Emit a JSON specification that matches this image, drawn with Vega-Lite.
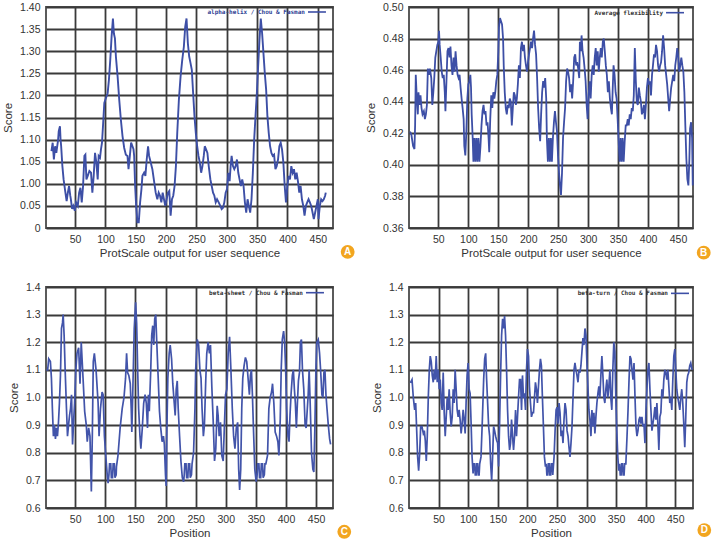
{
"$schema": "https://vega.github.io/schema/vega-lite/v6.json",
"background": "white",
"padding": {"left": 1, "top": 1, "right": 0, "bottom": 0},
"config": {
 "font": "Liberation Sans",
 "view": {"stroke": "#4a4a4a", "strokeWidth": 1.8},
 "axis": {"grid": true, "gridColor": "#3a3a3a", "gridWidth": 1.8, "gridOpacity": 1, "domain": false, "ticks": false, "tickCount": 20,
  "labelFont": "Liberation Sans", "labelFontSize": 10.5, "labelColor": "#333333", "labelPadding": 6, "labelOverlap": false,
  "titleFont": "Liberation Sans", "titleFontSize": 11.5, "titleFontWeight": "normal", "titleColor": "#333333"},
 "axisY": {"titlePadding": 6},
 "axisX": {"titlePadding": 3, "labelFlush": false}
},
"datasets": {
 "helix": [
{"pos":11,"score":1.074},{"pos":13,"score":1.093},{"pos":15,"score":1.055},{"pos":17,"score":1.085},{"pos":19,"score":1.070},{"pos":22,"score":1.100},{"pos":23,"score":1.119},{"pos":25,"score":1.130},{"pos":26,"score":1.100},{"pos":27,"score":1.085},{"pos":29,"score":1.040},{"pos":31,"score":1.010},{"pos":34,"score":0.980},{"pos":36,"score":0.961},{"pos":38,"score":0.980},{"pos":40,"score":0.995},{"pos":42,"score":0.973},{"pos":43,"score":0.965},{"pos":45,"score":0.943},{"pos":47,"score":0.950},{"pos":49.5,"score":0.939},{"pos":51.6,"score":0.958},{"pos":54.4,"score":0.950},{"pos":56.6,"score":0.980},{"pos":58.7,"score":0.991},{"pos":60.9,"score":0.958},{"pos":63.1,"score":0.995},{"pos":65.3,"score":1.063},{"pos":66.9,"score":1.066},{"pos":68.6,"score":1.010},{"pos":70.8,"score":1.018},{"pos":73.5,"score":1.029},{"pos":76.2,"score":1.025},{"pos":78.4,"score":0.980},{"pos":80.6,"score":1.018},{"pos":82.8,"score":1.070},{"pos":85,"score":1.048},{"pos":87.2,"score":1.010},{"pos":88.8,"score":1.063},{"pos":91,"score":1.059},{"pos":92.6,"score":1.078},{"pos":94.3,"score":1.093},{"pos":95.9,"score":1.130},{"pos":98.1,"score":1.183},{"pos":100.8,"score":1.194},{"pos":103.6,"score":1.205},{"pos":105.7,"score":1.235},{"pos":107.9,"score":1.280},{"pos":110.1,"score":1.333},{"pos":112.3,"score":1.374},{"pos":113.9,"score":1.340},{"pos":115.6,"score":1.329},{"pos":117.2,"score":1.288},{"pos":120,"score":1.243},{"pos":122.7,"score":1.190},{"pos":125.4,"score":1.145},{"pos":128.1,"score":1.108},{"pos":130.9,"score":1.081},{"pos":133.6,"score":1.066},{"pos":136.3,"score":1.063},{"pos":138,"score":1.033},{"pos":140.2,"score":1.063},{"pos":142.3,"score":1.093},{"pos":144.5,"score":1.085},{"pos":146.2,"score":1.078},{"pos":147.3,"score":1.063},{"pos":148.9,"score":0.995},{"pos":150.6,"score":0.950},{"pos":152.7,"score":0.913},{"pos":154.9,"score":0.913},{"pos":157.1,"score":0.958},{"pos":159.3,"score":0.988},{"pos":160.9,"score":1.018},{"pos":163.7,"score":1.025},{"pos":165.8,"score":1.018},{"pos":168,"score":1.055},{"pos":170.2,"score":1.085},{"pos":171.9,"score":1.063},{"pos":174.6,"score":1.048},{"pos":177.3,"score":1.033},{"pos":180.1,"score":1.006},{"pos":182.8,"score":0.980},{"pos":185.5,"score":0.965},{"pos":187.7,"score":0.980},{"pos":189.9,"score":0.973},{"pos":192.1,"score":0.958},{"pos":194.3,"score":0.980},{"pos":196.4,"score":0.965},{"pos":198.6,"score":0.950},{"pos":200.8,"score":0.965},{"pos":203,"score":0.980},{"pos":205.2,"score":0.984},{"pos":207.4,"score":0.928},{"pos":209.6,"score":0.965},{"pos":211.7,"score":0.973},{"pos":213.9,"score":0.995},{"pos":216.1,"score":1.040},{"pos":218.3,"score":1.115},{"pos":221,"score":1.190},{"pos":223.8,"score":1.243},{"pos":226.5,"score":1.280},{"pos":229.2,"score":1.310},{"pos":231.4,"score":1.355},{"pos":233.6,"score":1.374},{"pos":235.8,"score":1.318},{"pos":238,"score":1.288},{"pos":240.2,"score":1.273},{"pos":242.3,"score":1.258},{"pos":244.5,"score":1.205},{"pos":246.7,"score":1.153},{"pos":248.9,"score":1.115},{"pos":251.1,"score":1.085},{"pos":253.3,"score":1.063},{"pos":255.5,"score":1.048},{"pos":257.7,"score":1.025},{"pos":259.8,"score":1.040},{"pos":262,"score":1.063},{"pos":263.7,"score":1.085},{"pos":265.8,"score":1.078},{"pos":268,"score":1.070},{"pos":270.2,"score":1.040},{"pos":272.9,"score":1.010},{"pos":275.1,"score":0.995},{"pos":277.3,"score":0.980},{"pos":279.5,"score":0.973},{"pos":281.7,"score":0.958},{"pos":283.9,"score":0.965},{"pos":286.6,"score":0.958},{"pos":289.3,"score":0.950},{"pos":291.5,"score":0.943},{"pos":293.7,"score":0.946},{"pos":295.9,"score":0.958},{"pos":298.1,"score":0.980},{"pos":300.3,"score":0.988},{"pos":302.5,"score":1.025},{"pos":304.6,"score":1.006},{"pos":306.3,"score":1.040},{"pos":307.9,"score":1.063},{"pos":310.1,"score":1.040},{"pos":312.3,"score":1.033},{"pos":314.5,"score":1.040},{"pos":316.7,"score":1.055},{"pos":318.9,"score":1.025},{"pos":321,"score":1.010},{"pos":323.2,"score":0.995},{"pos":325.4,"score":1.010},{"pos":327.6,"score":0.995},{"pos":329.8,"score":0.958},{"pos":332,"score":0.935},{"pos":334.2,"score":0.965},{"pos":336.3,"score":0.950},{"pos":338.5,"score":0.935},{"pos":340.7,"score":0.965},{"pos":342.9,"score":1.025},{"pos":345.1,"score":1.100},{"pos":347.3,"score":1.153},{"pos":349.5,"score":1.205},{"pos":351.6,"score":1.265},{"pos":353.8,"score":1.325},{"pos":356,"score":1.374},{"pos":358.2,"score":1.340},{"pos":360.4,"score":1.295},{"pos":362.6,"score":1.250},{"pos":364.8,"score":1.213},{"pos":366.9,"score":1.153},{"pos":369.1,"score":1.115},{"pos":371.3,"score":1.085},{"pos":373.5,"score":1.070},{"pos":375.7,"score":1.063},{"pos":377.9,"score":1.066},{"pos":380.1,"score":1.033},{"pos":382.2,"score":1.040},{"pos":384.4,"score":1.055},{"pos":386.6,"score":1.085},{"pos":388.8,"score":1.093},{"pos":391,"score":1.078},{"pos":393.2,"score":1.048},{"pos":395.4,"score":0.995},{"pos":397.5,"score":0.958},{"pos":399.7,"score":0.995},{"pos":401.9,"score":1.018},{"pos":404.1,"score":1.010},{"pos":406.3,"score":1.040},{"pos":408.5,"score":1.025},{"pos":410.7,"score":1.033},{"pos":412.8,"score":1.010},{"pos":415,"score":1.025},{"pos":417.2,"score":1.006},{"pos":419.4,"score":0.980},{"pos":421.6,"score":0.995},{"pos":423.8,"score":0.965},{"pos":426,"score":0.950},{"pos":428.1,"score":0.928},{"pos":430.3,"score":0.950},{"pos":432.5,"score":0.958},{"pos":434.7,"score":0.965},{"pos":436.9,"score":0.958},{"pos":439.1,"score":0.950},{"pos":441.3,"score":0.935},{"pos":443.4,"score":0.920},{"pos":445.6,"score":0.935},{"pos":447.8,"score":0.950},{"pos":450,"score":0.965},{"pos":451.1,"score":0.920},{"pos":453.3,"score":0.950},{"pos":455.5,"score":0.965},{"pos":457.7,"score":0.961},{"pos":459.8,"score":0.965},{"pos":462,"score":0.973},{"pos":463.1,"score":0.980}
 ],
 "flex": [
{"pos":2.8,"score":0.421},{"pos":5.0,"score":0.419},{"pos":7.8,"score":0.412},{"pos":10.1,"score":0.410},{"pos":11.2,"score":0.425},{"pos":12.3,"score":0.457},{"pos":14.0,"score":0.442},{"pos":15.7,"score":0.432},{"pos":16.8,"score":0.446},{"pos":18.5,"score":0.438},{"pos":20.2,"score":0.444},{"pos":21.9,"score":0.436},{"pos":23.6,"score":0.432},{"pos":25.8,"score":0.434},{"pos":27.5,"score":0.429},{"pos":29.2,"score":0.432},{"pos":30.9,"score":0.438},{"pos":32.5,"score":0.461},{"pos":34.2,"score":0.457},{"pos":35.9,"score":0.461},{"pos":38.2,"score":0.455},{"pos":39.9,"score":0.438},{"pos":41.6,"score":0.446},{"pos":43.2,"score":0.455},{"pos":44.9,"score":0.468},{"pos":46.6,"score":0.472},{"pos":48.3,"score":0.476},{"pos":50.0,"score":0.478},{"pos":51.1,"score":0.485},{"pos":52.2,"score":0.476},{"pos":53.9,"score":0.468},{"pos":55.6,"score":0.459},{"pos":57.3,"score":0.455},{"pos":59.0,"score":0.457},{"pos":60.7,"score":0.446},{"pos":61.8,"score":0.434},{"pos":63.5,"score":0.453},{"pos":65.2,"score":0.472},{"pos":66.9,"score":0.474},{"pos":68.6,"score":0.468},{"pos":70.2,"score":0.475},{"pos":71.9,"score":0.463},{"pos":73.6,"score":0.457},{"pos":75.3,"score":0.468},{"pos":77.0,"score":0.459},{"pos":78.7,"score":0.472},{"pos":80.4,"score":0.463},{"pos":82.1,"score":0.457},{"pos":83.7,"score":0.455},{"pos":85.4,"score":0.457},{"pos":87.1,"score":0.449},{"pos":88.8,"score":0.442},{"pos":90.5,"score":0.436},{"pos":92.2,"score":0.429},{"pos":93.3,"score":0.412},{"pos":95.0,"score":0.406},{"pos":96.7,"score":0.421},{"pos":98.4,"score":0.442},{"pos":100.0,"score":0.451},{"pos":101.7,"score":0.453},{"pos":103.4,"score":0.457},{"pos":104.5,"score":0.449},{"pos":105.6,"score":0.432},{"pos":107.3,"score":0.417},{"pos":108.5,"score":0.402},{"pos":110.1,"score":0.417},{"pos":111.8,"score":0.402},{"pos":113.5,"score":0.417},{"pos":115.2,"score":0.402},{"pos":116.9,"score":0.417},{"pos":118.6,"score":0.402},{"pos":120.3,"score":0.412},{"pos":122.0,"score":0.425},{"pos":123.7,"score":0.434},{"pos":125.4,"score":0.438},{"pos":127.0,"score":0.432},{"pos":128.7,"score":0.434},{"pos":130.4,"score":0.425},{"pos":132.1,"score":0.427},{"pos":133.8,"score":0.417},{"pos":134.9,"score":0.408},{"pos":136.6,"score":0.429},{"pos":138.3,"score":0.444},{"pos":140.0,"score":0.436},{"pos":141.7,"score":0.446},{"pos":143.4,"score":0.442},{"pos":145.0,"score":0.446},{"pos":146.7,"score":0.453},{"pos":148.4,"score":0.457},{"pos":150.1,"score":0.472},{"pos":151.2,"score":0.487},{"pos":152.9,"score":0.493},{"pos":154.6,"score":0.491},{"pos":156.3,"score":0.489},{"pos":158.0,"score":0.480},{"pos":159.1,"score":0.463},{"pos":160.8,"score":0.446},{"pos":162.5,"score":0.436},{"pos":164.2,"score":0.432},{"pos":165.9,"score":0.438},{"pos":167.5,"score":0.436},{"pos":169.2,"score":0.442},{"pos":170.9,"score":0.440},{"pos":172.6,"score":0.425},{"pos":174.3,"score":0.436},{"pos":176.0,"score":0.446},{"pos":177.7,"score":0.444},{"pos":179.4,"score":0.438},{"pos":181.0,"score":0.442},{"pos":182.7,"score":0.451},{"pos":184.4,"score":0.463},{"pos":186.1,"score":0.455},{"pos":187.8,"score":0.474},{"pos":189.5,"score":0.478},{"pos":191.2,"score":0.472},{"pos":192.9,"score":0.476},{"pos":194.5,"score":0.468},{"pos":196.2,"score":0.463},{"pos":197.9,"score":0.459},{"pos":199.6,"score":0.465},{"pos":201.3,"score":0.470},{"pos":203.0,"score":0.474},{"pos":204.7,"score":0.478},{"pos":206.4,"score":0.474},{"pos":208.0,"score":0.480},{"pos":209.7,"score":0.485},{"pos":211.4,"score":0.476},{"pos":213.1,"score":0.470},{"pos":214.8,"score":0.455},{"pos":216.5,"score":0.436},{"pos":218.2,"score":0.423},{"pos":219.9,"score":0.415},{"pos":221.5,"score":0.432},{"pos":223.2,"score":0.446},{"pos":224.9,"score":0.453},{"pos":226.6,"score":0.449},{"pos":228.3,"score":0.455},{"pos":230.0,"score":0.442},{"pos":231.1,"score":0.417},{"pos":232.8,"score":0.402},{"pos":234.5,"score":0.417},{"pos":236.2,"score":0.402},{"pos":237.9,"score":0.417},{"pos":239.5,"score":0.402},{"pos":241.2,"score":0.417},{"pos":242.9,"score":0.427},{"pos":244.6,"score":0.434},{"pos":246.3,"score":0.427},{"pos":248.0,"score":0.421},{"pos":249.7,"score":0.406},{"pos":251.4,"score":0.395},{"pos":253.0,"score":0.387},{"pos":254.7,"score":0.381},{"pos":256.4,"score":0.395},{"pos":258.1,"score":0.417},{"pos":259.8,"score":0.427},{"pos":261.5,"score":0.436},{"pos":263.2,"score":0.453},{"pos":264.9,"score":0.461},{"pos":266.5,"score":0.459},{"pos":268.2,"score":0.455},{"pos":269.9,"score":0.446},{"pos":271.6,"score":0.451},{"pos":273.3,"score":0.442},{"pos":275.0,"score":0.453},{"pos":276.7,"score":0.468},{"pos":278.4,"score":0.470},{"pos":280.0,"score":0.463},{"pos":281.7,"score":0.465},{"pos":283.4,"score":0.461},{"pos":285.1,"score":0.455},{"pos":286.2,"score":0.478},{"pos":287.9,"score":0.472},{"pos":289.0,"score":0.482},{"pos":290.7,"score":0.472},{"pos":292.4,"score":0.468},{"pos":294.1,"score":0.461},{"pos":295.8,"score":0.453},{"pos":297.5,"score":0.438},{"pos":299.1,"score":0.429},{"pos":300.8,"score":0.444},{"pos":302.5,"score":0.453},{"pos":304.2,"score":0.442},{"pos":305.9,"score":0.457},{"pos":307.6,"score":0.463},{"pos":309.3,"score":0.457},{"pos":311.0,"score":0.468},{"pos":312.6,"score":0.474},{"pos":314.3,"score":0.463},{"pos":316.0,"score":0.472},{"pos":317.7,"score":0.459},{"pos":319.4,"score":0.468},{"pos":321.1,"score":0.474},{"pos":322.8,"score":0.468},{"pos":324.5,"score":0.478},{"pos":326.1,"score":0.480},{"pos":327.8,"score":0.472},{"pos":329.5,"score":0.463},{"pos":331.2,"score":0.457},{"pos":332.9,"score":0.446},{"pos":334.6,"score":0.453},{"pos":336.3,"score":0.442},{"pos":338.0,"score":0.436},{"pos":339.6,"score":0.432},{"pos":340.8,"score":0.446},{"pos":342.4,"score":0.463},{"pos":344.1,"score":0.457},{"pos":345.8,"score":0.446},{"pos":347.5,"score":0.442},{"pos":349.2,"score":0.429},{"pos":350.9,"score":0.415},{"pos":352.6,"score":0.402},{"pos":354.2,"score":0.417},{"pos":355.9,"score":0.402},{"pos":357.6,"score":0.417},{"pos":359.3,"score":0.402},{"pos":361.0,"score":0.415},{"pos":362.7,"score":0.425},{"pos":364.4,"score":0.425},{"pos":366.1,"score":0.429},{"pos":367.7,"score":0.425},{"pos":369.4,"score":0.432},{"pos":371.1,"score":0.429},{"pos":372.8,"score":0.436},{"pos":374.5,"score":0.434},{"pos":376.2,"score":0.444},{"pos":377.9,"score":0.474},{"pos":379.6,"score":0.453},{"pos":381.2,"score":0.440},{"pos":382.9,"score":0.438},{"pos":384.6,"score":0.449},{"pos":386.3,"score":0.444},{"pos":388.0,"score":0.440},{"pos":389.7,"score":0.432},{"pos":391.4,"score":0.434},{"pos":393.1,"score":0.438},{"pos":394.7,"score":0.429},{"pos":396.4,"score":0.438},{"pos":398.1,"score":0.449},{"pos":399.8,"score":0.455},{"pos":401.5,"score":0.451},{"pos":403.2,"score":0.453},{"pos":404.9,"score":0.444},{"pos":406.6,"score":0.457},{"pos":408.2,"score":0.463},{"pos":409.9,"score":0.470},{"pos":411.6,"score":0.468},{"pos":413.3,"score":0.476},{"pos":415.0,"score":0.472},{"pos":416.7,"score":0.463},{"pos":418.4,"score":0.459},{"pos":420.1,"score":0.463},{"pos":421.7,"score":0.465},{"pos":423.4,"score":0.472},{"pos":425.1,"score":0.482},{"pos":426.8,"score":0.474},{"pos":428.5,"score":0.463},{"pos":430.2,"score":0.457},{"pos":431.9,"score":0.451},{"pos":433.6,"score":0.442},{"pos":435.2,"score":0.434},{"pos":436.9,"score":0.442},{"pos":438.6,"score":0.449},{"pos":440.3,"score":0.453},{"pos":442.0,"score":0.457},{"pos":443.7,"score":0.453},{"pos":445.4,"score":0.463},{"pos":447.1,"score":0.468},{"pos":448.7,"score":0.474},{"pos":450.4,"score":0.468},{"pos":452.1,"score":0.459},{"pos":453.8,"score":0.463},{"pos":455.5,"score":0.468},{"pos":457.2,"score":0.463},{"pos":458.9,"score":0.459},{"pos":460.6,"score":0.446},{"pos":462.2,"score":0.425},{"pos":463.9,"score":0.404},{"pos":465.6,"score":0.391},{"pos":467.3,"score":0.387},{"pos":469.0,"score":0.404},{"pos":470.1,"score":0.423},{"pos":471.8,"score":0.427},{"pos":473.5,"score":0.417},{"pos":474.6,"score":0.387}
 ],
 "sheet": [
{"pos":2,"score":1.10},{"pos":4.3,"score":1.10},{"pos":6,"score":1.14},{"pos":8.8,"score":1.13},{"pos":10.5,"score":1.07},{"pos":12.1,"score":0.96},{"pos":13.8,"score":0.86},{"pos":15.5,"score":0.90},{"pos":17.2,"score":0.85},{"pos":18.8,"score":0.89},{"pos":20.5,"score":0.86},{"pos":22.2,"score":0.91},{"pos":23.8,"score":0.98},{"pos":25.5,"score":1.08},{"pos":27.2,"score":1.25},{"pos":28.9,"score":1.27},{"pos":30,"score":1.30},{"pos":31.6,"score":1.225},{"pos":33.3,"score":1.10},{"pos":35.5,"score":0.96},{"pos":37.2,"score":0.86},{"pos":38.9,"score":0.90},{"pos":40.6,"score":0.935},{"pos":42.2,"score":0.96},{"pos":43.9,"score":1.01},{"pos":45.6,"score":0.83},{"pos":47.5,"score":0.92},{"pos":49,"score":0.98},{"pos":51,"score":1.10},{"pos":53,"score":1.16},{"pos":55.7,"score":1.18},{"pos":58,"score":1.05},{"pos":60,"score":1.20},{"pos":63,"score":1.07},{"pos":65.7,"score":0.95},{"pos":68.4,"score":0.90},{"pos":70,"score":0.84},{"pos":72.3,"score":0.89},{"pos":74.5,"score":0.86},{"pos":76.8,"score":0.66},{"pos":78.4,"score":0.86},{"pos":80,"score":1.13},{"pos":81.8,"score":1.16},{"pos":84.6,"score":1.10},{"pos":88,"score":0.98},{"pos":89.6,"score":0.86},{"pos":92,"score":0.96},{"pos":94.6,"score":1.02},{"pos":96.3,"score":1.01},{"pos":98.5,"score":0.86},{"pos":100.7,"score":0.79},{"pos":103.5,"score":0.71},{"pos":104.6,"score":0.69},{"pos":106,"score":0.72},{"pos":107,"score":0.76},{"pos":109,"score":0.76},{"pos":110,"score":0.71},{"pos":112,"score":0.71},{"pos":113,"score":0.76},{"pos":115,"score":0.76},{"pos":116,"score":0.71},{"pos":118,"score":0.72},{"pos":118.5,"score":0.75},{"pos":121,"score":0.79},{"pos":124.6,"score":0.89},{"pos":128,"score":0.96},{"pos":131,"score":1.0},{"pos":133.6,"score":1.07},{"pos":135.3,"score":1.16},{"pos":137,"score":1.09},{"pos":139,"score":1.08},{"pos":141.4,"score":1.05},{"pos":143,"score":0.96},{"pos":144,"score":0.875},{"pos":145.8,"score":1.04},{"pos":148,"score":1.25},{"pos":150.3,"score":1.345},{"pos":152,"score":1.27},{"pos":153.7,"score":1.10},{"pos":155.3,"score":0.96},{"pos":157.5,"score":0.86},{"pos":159,"score":0.815},{"pos":161.4,"score":0.89},{"pos":163.7,"score":0.98},{"pos":166,"score":1.01},{"pos":168,"score":0.98},{"pos":170,"score":0.89},{"pos":171.5,"score":1.01},{"pos":173,"score":0.95},{"pos":175.4,"score":1.10},{"pos":177,"score":1.225},{"pos":178.7,"score":1.26},{"pos":180.4,"score":1.19},{"pos":182,"score":1.285},{"pos":183.7,"score":1.30},{"pos":185.4,"score":1.20},{"pos":187.6,"score":1.08},{"pos":189.9,"score":0.95},{"pos":192,"score":0.89},{"pos":194.3,"score":0.84},{"pos":196.5,"score":0.86},{"pos":198,"score":0.83},{"pos":199.9,"score":0.72},{"pos":201,"score":0.68},{"pos":202,"score":0.86},{"pos":203.8,"score":1.07},{"pos":206,"score":1.16},{"pos":207.7,"score":1.19},{"pos":210,"score":1.14},{"pos":212,"score":1.05},{"pos":214.4,"score":0.98},{"pos":216,"score":0.935},{"pos":217.7,"score":1.03},{"pos":219.4,"score":1.06},{"pos":221,"score":0.96},{"pos":223.3,"score":0.86},{"pos":225.5,"score":0.77},{"pos":227.8,"score":0.71},{"pos":230,"score":0.695},{"pos":231,"score":0.72},{"pos":232,"score":0.76},{"pos":234,"score":0.76},{"pos":235,"score":0.71},{"pos":237,"score":0.71},{"pos":238,"score":0.76},{"pos":240,"score":0.76},{"pos":241,"score":0.71},{"pos":243,"score":0.72},{"pos":244,"score":0.76},{"pos":246.5,"score":0.80},{"pos":248.8,"score":0.96},{"pos":250,"score":1.10},{"pos":252.6,"score":1.21},{"pos":254.9,"score":1.19},{"pos":257,"score":1.10},{"pos":258.9,"score":1.07},{"pos":260.6,"score":0.96},{"pos":262.8,"score":0.86},{"pos":264.5,"score":0.90},{"pos":266.7,"score":1.06},{"pos":268.4,"score":1.16},{"pos":270.6,"score":1.20},{"pos":272.9,"score":1.16},{"pos":274.6,"score":1.19},{"pos":276.8,"score":1.04},{"pos":279,"score":0.92},{"pos":281.3,"score":0.77},{"pos":283.4,"score":0.815},{"pos":285.7,"score":0.97},{"pos":287.3,"score":0.935},{"pos":289,"score":0.86},{"pos":291.2,"score":0.91},{"pos":293.4,"score":0.79},{"pos":295.7,"score":0.77},{"pos":297.9,"score":0.91},{"pos":299.6,"score":1.01},{"pos":301.8,"score":1.03},{"pos":304,"score":1.16},{"pos":306.3,"score":1.22},{"pos":308.5,"score":1.10},{"pos":310.8,"score":0.96},{"pos":313,"score":0.86},{"pos":315.2,"score":0.815},{"pos":317.5,"score":0.89},{"pos":319.7,"score":0.91},{"pos":321.4,"score":0.74},{"pos":323,"score":0.665},{"pos":324.8,"score":0.74},{"pos":326.5,"score":0.96},{"pos":328.2,"score":1.07},{"pos":330.4,"score":1.115},{"pos":332.6,"score":1.145},{"pos":334.8,"score":1.13},{"pos":337,"score":1.07},{"pos":339.2,"score":1.01},{"pos":340.9,"score":1.08},{"pos":342.6,"score":1.10},{"pos":344.2,"score":1.01},{"pos":345.9,"score":0.89},{"pos":348.2,"score":0.74},{"pos":350.4,"score":0.695},{"pos":352,"score":0.72},{"pos":353,"score":0.76},{"pos":355,"score":0.76},{"pos":356,"score":0.71},{"pos":358,"score":0.71},{"pos":359,"score":0.76},{"pos":361,"score":0.76},{"pos":362,"score":0.71},{"pos":364,"score":0.72},{"pos":365,"score":0.76},{"pos":366.5,"score":0.76},{"pos":369.3,"score":0.79},{"pos":371.5,"score":0.96},{"pos":373.7,"score":1.0},{"pos":376,"score":1.02},{"pos":377.6,"score":1.05},{"pos":379.8,"score":0.98},{"pos":382,"score":0.875},{"pos":384.3,"score":0.86},{"pos":386.5,"score":0.84},{"pos":388.2,"score":0.79},{"pos":390.4,"score":0.92},{"pos":392,"score":1.10},{"pos":393.8,"score":1.21},{"pos":396,"score":1.24},{"pos":397.7,"score":1.20},{"pos":399.4,"score":1.10},{"pos":401,"score":0.96},{"pos":403.3,"score":0.86},{"pos":405,"score":0.84},{"pos":406.6,"score":0.935},{"pos":408.3,"score":1.01},{"pos":410.5,"score":1.08},{"pos":412.2,"score":1.10},{"pos":413.9,"score":1.03},{"pos":415.5,"score":0.98},{"pos":417.2,"score":0.89},{"pos":418.9,"score":0.98},{"pos":420.6,"score":1.06},{"pos":422.3,"score":1.09},{"pos":423.9,"score":1.20},{"pos":425.6,"score":1.21},{"pos":427.3,"score":1.10},{"pos":429.5,"score":1.03},{"pos":431.7,"score":0.90},{"pos":433.4,"score":0.89},{"pos":435.1,"score":0.95},{"pos":436.8,"score":1.01},{"pos":438.4,"score":1.10},{"pos":440.1,"score":0.98},{"pos":442.3,"score":0.80},{"pos":444.6,"score":0.74},{"pos":446.2,"score":0.73},{"pos":447.9,"score":0.89},{"pos":449.6,"score":1.10},{"pos":451.2,"score":1.20},{"pos":453.5,"score":1.21},{"pos":455.7,"score":1.16},{"pos":457.4,"score":1.10},{"pos":459.6,"score":1.01},{"pos":461.3,"score":1.0},{"pos":462.9,"score":1.09},{"pos":464.6,"score":1.10},{"pos":466.3,"score":1.01},{"pos":468,"score":0.96},{"pos":470.2,"score":0.90},{"pos":472.4,"score":0.85},{"pos":474,"score":0.83}
 ],
 "turn": [
{"pos":2.3,"score":1.053},{"pos":5.1,"score":1.065},{"pos":7.3,"score":1.0},{"pos":9.6,"score":0.955},{"pos":11.3,"score":0.98},{"pos":13,"score":0.88},{"pos":14.6,"score":0.785},{"pos":16.3,"score":0.735},{"pos":18,"score":0.795},{"pos":19.7,"score":0.895},{"pos":21.9,"score":0.895},{"pos":24.2,"score":0.87},{"pos":25.9,"score":0.88},{"pos":27.5,"score":0.845},{"pos":29.2,"score":0.77},{"pos":30.9,"score":0.86},{"pos":32.6,"score":1.0},{"pos":34.3,"score":1.1},{"pos":35.9,"score":1.15},{"pos":37.6,"score":1.13},{"pos":39.3,"score":1.08},{"pos":41,"score":1.055},{"pos":42.7,"score":1.1},{"pos":44.3,"score":1.065},{"pos":46,"score":1.15},{"pos":47.7,"score":1.055},{"pos":49.4,"score":1.1},{"pos":51.1,"score":1.03},{"pos":52.8,"score":1.065},{"pos":54.5,"score":0.98},{"pos":56.1,"score":0.955},{"pos":57.8,"score":1.09},{"pos":59.5,"score":0.945},{"pos":61.2,"score":0.86},{"pos":62.9,"score":0.93},{"pos":64.6,"score":1.0},{"pos":66.2,"score":0.955},{"pos":67.9,"score":1.03},{"pos":69.6,"score":0.945},{"pos":71.3,"score":0.895},{"pos":73,"score":0.93},{"pos":74.7,"score":1.03},{"pos":76.3,"score":0.98},{"pos":78,"score":1.1},{"pos":79.7,"score":1.03},{"pos":81.4,"score":0.955},{"pos":83.1,"score":0.93},{"pos":84.7,"score":0.955},{"pos":86.4,"score":0.92},{"pos":88.1,"score":0.87},{"pos":89.8,"score":0.905},{"pos":91.5,"score":0.955},{"pos":93.2,"score":0.92},{"pos":94.9,"score":0.87},{"pos":96.5,"score":0.98},{"pos":98.2,"score":1.08},{"pos":99.9,"score":1.125},{"pos":101.6,"score":1.03},{"pos":103.3,"score":1.015},{"pos":105,"score":0.905},{"pos":106.6,"score":0.785},{"pos":108.3,"score":0.725},{"pos":109.5,"score":0.76},{"pos":111,"score":0.76},{"pos":112,"score":0.72},{"pos":113.5,"score":0.72},{"pos":114.5,"score":0.76},{"pos":116,"score":0.76},{"pos":117,"score":0.72},{"pos":118.5,"score":0.72},{"pos":119.5,"score":0.76},{"pos":121.7,"score":0.785},{"pos":124,"score":0.92},{"pos":126.2,"score":1.065},{"pos":127.9,"score":1.14},{"pos":129.6,"score":1.16},{"pos":131.2,"score":1.065},{"pos":132.9,"score":0.98},{"pos":134.6,"score":0.895},{"pos":136.3,"score":0.86},{"pos":138,"score":0.76},{"pos":139.7,"score":0.70},{"pos":141.3,"score":0.785},{"pos":143,"score":0.895},{"pos":144.7,"score":0.88},{"pos":146.4,"score":0.86},{"pos":148.1,"score":0.845},{"pos":149.8,"score":0.835},{"pos":151.4,"score":0.75},{"pos":153.1,"score":0.905},{"pos":154.8,"score":1.08},{"pos":156.5,"score":1.225},{"pos":158.2,"score":1.285},{"pos":159.9,"score":1.25},{"pos":161.5,"score":1.295},{"pos":163.2,"score":1.225},{"pos":164.9,"score":1.1},{"pos":166.6,"score":0.955},{"pos":168.3,"score":0.86},{"pos":170,"score":0.81},{"pos":171.6,"score":0.835},{"pos":173.3,"score":0.92},{"pos":175,"score":0.86},{"pos":176.7,"score":0.81},{"pos":178.4,"score":0.86},{"pos":180.1,"score":0.955},{"pos":181.7,"score":0.86},{"pos":183.4,"score":0.93},{"pos":185.1,"score":1.0},{"pos":186.8,"score":1.065},{"pos":188.5,"score":1.065},{"pos":190.2,"score":0.955},{"pos":191.8,"score":1.08},{"pos":193.5,"score":1.0},{"pos":195.2,"score":1.015},{"pos":196.9,"score":0.955},{"pos":198.6,"score":1.1},{"pos":200.3,"score":1.175},{"pos":202,"score":1.15},{"pos":203.6,"score":1.04},{"pos":205.3,"score":0.98},{"pos":207,"score":0.93},{"pos":208.7,"score":0.945},{"pos":210.4,"score":0.945},{"pos":212.1,"score":1.0},{"pos":213.7,"score":1.055},{"pos":215.4,"score":1.03},{"pos":217.1,"score":0.98},{"pos":218.8,"score":1.04},{"pos":220.5,"score":1.1},{"pos":222.2,"score":1.14},{"pos":223.8,"score":1.115},{"pos":225.5,"score":1.0},{"pos":227.2,"score":0.895},{"pos":228.9,"score":0.785},{"pos":230.6,"score":0.75},{"pos":232,"score":0.76},{"pos":233,"score":0.72},{"pos":234.5,"score":0.72},{"pos":235.5,"score":0.76},{"pos":237,"score":0.76},{"pos":238,"score":0.72},{"pos":239.5,"score":0.72},{"pos":240.5,"score":0.76},{"pos":242,"score":0.76},{"pos":243,"score":0.72},{"pos":245.2,"score":0.785},{"pos":246.9,"score":0.88},{"pos":248.6,"score":0.955},{"pos":250.2,"score":0.965},{"pos":251.9,"score":0.905},{"pos":253.6,"score":0.98},{"pos":255.3,"score":0.945},{"pos":257,"score":0.86},{"pos":258.7,"score":0.88},{"pos":260.3,"score":0.835},{"pos":262,"score":0.92},{"pos":263.7,"score":0.98},{"pos":265.4,"score":0.955},{"pos":267.1,"score":0.88},{"pos":268.8,"score":0.86},{"pos":270.4,"score":0.82},{"pos":272.1,"score":0.785},{"pos":273.8,"score":0.835},{"pos":275.5,"score":0.895},{"pos":277.2,"score":1.0},{"pos":278.9,"score":1.1},{"pos":280.5,"score":1.125},{"pos":282.2,"score":1.1},{"pos":283.9,"score":1.08},{"pos":285.6,"score":1.055},{"pos":287.3,"score":1.1},{"pos":289,"score":1.09},{"pos":290.6,"score":1.115},{"pos":292.3,"score":1.165},{"pos":294,"score":1.215},{"pos":295.7,"score":1.19},{"pos":297.4,"score":1.25},{"pos":299.1,"score":1.225},{"pos":300.7,"score":1.125},{"pos":302.4,"score":1.04},{"pos":304.1,"score":0.955},{"pos":305.8,"score":0.92},{"pos":307.5,"score":0.86},{"pos":309.2,"score":0.955},{"pos":310.8,"score":0.895},{"pos":312.5,"score":0.945},{"pos":314.2,"score":0.87},{"pos":315.9,"score":0.93},{"pos":317.6,"score":0.98},{"pos":319.3,"score":1.015},{"pos":320.9,"score":1.04},{"pos":322.6,"score":1.0},{"pos":324.3,"score":1.08},{"pos":326,"score":1.15},{"pos":327.7,"score":1.08},{"pos":329.4,"score":1.0},{"pos":331,"score":0.98},{"pos":332.7,"score":1.03},{"pos":334.4,"score":1.065},{"pos":336.1,"score":1.0},{"pos":337.8,"score":1.04},{"pos":339.5,"score":1.1},{"pos":341.1,"score":1.0},{"pos":342.8,"score":0.955},{"pos":344.5,"score":1.1},{"pos":346.2,"score":1.2},{"pos":347.9,"score":1.165},{"pos":349.6,"score":1.0},{"pos":351.2,"score":0.88},{"pos":352.9,"score":0.785},{"pos":354.6,"score":0.735},{"pos":356,"score":0.76},{"pos":357,"score":0.72},{"pos":358.5,"score":0.72},{"pos":359.5,"score":0.76},{"pos":361,"score":0.76},{"pos":362,"score":0.72},{"pos":363.5,"score":0.72},{"pos":364.5,"score":0.76},{"pos":366.5,"score":0.76},{"pos":368.5,"score":0.86},{"pos":370.2,"score":0.955},{"pos":371.9,"score":1.065},{"pos":373.5,"score":1.15},{"pos":375.2,"score":1.14},{"pos":376.9,"score":1.1},{"pos":378.6,"score":1.065},{"pos":380.3,"score":1.125},{"pos":382,"score":1.0},{"pos":383.6,"score":0.895},{"pos":385.3,"score":0.86},{"pos":387,"score":0.88},{"pos":388.7,"score":0.92},{"pos":390.4,"score":0.93},{"pos":392,"score":0.905},{"pos":393.7,"score":0.93},{"pos":395.4,"score":0.895},{"pos":397.1,"score":0.905},{"pos":398.8,"score":0.835},{"pos":400.5,"score":0.955},{"pos":402.1,"score":1.03},{"pos":403.8,"score":1.1},{"pos":405.5,"score":1.125},{"pos":407.2,"score":1.03},{"pos":408.9,"score":0.955},{"pos":410.6,"score":0.88},{"pos":412.2,"score":0.905},{"pos":413.9,"score":0.93},{"pos":415.6,"score":0.965},{"pos":417.3,"score":0.92},{"pos":419,"score":0.98},{"pos":420.6,"score":0.905},{"pos":422.3,"score":0.81},{"pos":424,"score":0.93},{"pos":425.7,"score":0.945},{"pos":427.4,"score":1.03},{"pos":429.1,"score":1.0},{"pos":430.7,"score":1.065},{"pos":432.4,"score":1.1},{"pos":434.1,"score":1.09},{"pos":435.8,"score":1.065},{"pos":437.5,"score":1.1},{"pos":439.2,"score":1.04},{"pos":440.8,"score":0.98},{"pos":442.5,"score":1.0},{"pos":444.2,"score":0.955},{"pos":445.9,"score":1.065},{"pos":447.6,"score":1.15},{"pos":449.3,"score":1.175},{"pos":450.9,"score":1.1},{"pos":452.6,"score":1.03},{"pos":454.3,"score":1.0},{"pos":456,"score":0.98},{"pos":457.7,"score":0.955},{"pos":459.4,"score":1.0},{"pos":461,"score":1.03},{"pos":462.7,"score":0.98},{"pos":464.4,"score":0.905},{"pos":466.1,"score":0.82},{"pos":467.8,"score":0.93},{"pos":469.5,"score":1.055},{"pos":471.1,"score":1.08},{"pos":472.8,"score":1.09},{"pos":474.5,"score":1.115},{"pos":476.2,"score":1.125},{"pos":478.4,"score":1.1}
 ]
},
"columns": 2,
"spacing": {"row": 59, "column": 76},
"bounds": "flush",
"concat": [
 {
  "width": 287, "height": 221,
  "layer": [
   {"data": {"name": "helix"},
    "mark": {"type": "line", "color": "#3d4fa6", "strokeWidth": 1.9},
    "encoding": {
     "x": {"field": "pos", "type": "quantitative", "scale": {"domain": [2, 475], "nice": false, "zero": false}, "axis": {"values": [50,100,150,200,250,300,350,400,450], "title": "ProtScale output for user sequence"}},
     "y": {"field": "score", "type": "quantitative", "scale": {"domain": [0.9, 1.4], "nice": false, "zero": false}, "axis": {"values": [0.9,0.95,1.0,1.05,1.1,1.15,1.2,1.25,1.3,1.35,1.4], "labelExpr": "datum.value < 0.925 ? '0' : datum.value < 0.975 ? '0.05' : format(datum.value, '.2f')", "title": "Score"}}
    }},
   {"data": {"values": [{"name": "alpha-helix / Chou & Fasman"}]},
    "mark": {"type": "text", "align": "right", "baseline": "middle", "font": "DejaVu Sans Mono", "fontWeight": "bold", "fontSize": 6, "color": "#2f3f94"},
    "encoding": {"x": {"datum": 428.8}, "y": {"datum": 1.3887}, "text": {"field": "name"}}},
   {"data": {"values": [{"name": "alpha-helix / Chou & Fasman"}]},
    "mark": {"type": "rule", "color": "#3d4fa6", "strokeWidth": 1.6},
    "encoding": {"x": {"datum": 433.8}, "x2": {"datum": 463.4}, "y": {"datum": 1.3887}}},
   {"data": {"values": [{"label": "A"}]},
    "mark": {"type": "point", "shape": "circle", "filled": true, "color": "#f2a51f", "size": 190, "opacity": 1},
    "encoding": {"x": {"datum": 499.2}, "y": {"datum": 0.846}}},
   {"data": {"values": [{"label": "A"}]},
    "mark": {"type": "text", "color": "white", "fontWeight": "bold", "fontSize": 10, "font": "Liberation Sans", "baseline": "middle", "align": "center"},
    "encoding": {"x": {"datum": 499.2}, "y": {"datum": 0.846}, "text": {"field": "label"}}}
  ]
 },
 {
  "width": 284, "height": 221,
  "layer": [
   {"data": {"name": "flex"},
    "mark": {"type": "line", "color": "#3d4fa6", "strokeWidth": 1.8},
    "encoding": {
     "x": {"field": "pos", "type": "quantitative", "scale": {"domain": [1, 475], "nice": false, "zero": false}, "axis": {"values": [50,100,150,200,250,300,350,400,450], "title": "ProtScale output for user sequence"}},
     "y": {"field": "score", "type": "quantitative", "scale": {"domain": [0.36, 0.5], "nice": false, "zero": false}, "axis": {"values": [0.36,0.38,0.4,0.42,0.44,0.46,0.48,0.5], "format": ".2f", "title": "Score"}}
    }},
   {"data": {"values": [{"name": "Average flexibility"}]},
    "mark": {"type": "text", "align": "right", "baseline": "middle", "font": "DejaVu Sans Mono", "fontWeight": "bold", "fontSize": 6, "color": "#333333"},
    "encoding": {"x": {"datum": 425}, "y": {"datum": 0.4964}, "text": {"field": "name"}}},
   {"data": {"values": [{"name": "Average flexibility"}]},
    "mark": {"type": "rule", "color": "#3d4fa6", "strokeWidth": 1.6},
    "encoding": {"x": {"datum": 430}, "x2": {"datum": 460}, "y": {"datum": 0.4964}}},
   {"data": {"values": [{"label": "B"}]},
    "mark": {"type": "point", "shape": "circle", "filled": true, "color": "#f2a51f", "size": 190, "opacity": 1},
    "encoding": {"x": {"datum": 492.9}, "y": {"datum": 0.3444}}},
   {"data": {"values": [{"label": "B"}]},
    "mark": {"type": "text", "color": "white", "fontWeight": "bold", "fontSize": 10, "font": "Liberation Sans", "baseline": "middle", "align": "center"},
    "encoding": {"x": {"datum": 492.9}, "y": {"datum": 0.3444}, "text": {"field": "label"}}}
  ]
 },
 {
  "width": 287, "height": 221,
  "layer": [
   {"data": {"name": "sheet"},
    "mark": {"type": "line", "color": "#4254aa", "strokeWidth": 1.7},
    "encoding": {
     "x": {"field": "pos", "type": "quantitative", "scale": {"domain": [1.5, 478], "nice": false, "zero": false}, "axis": {"values": [50,100,150,200,250,300,350,400,450], "title": "Position"}},
     "y": {"field": "score", "type": "quantitative", "scale": {"domain": [0.6, 1.4], "nice": false, "zero": false}, "axis": {"values": [0.6,0.7,0.8,0.9,1.0,1.1,1.2,1.3,1.4], "format": ".1f", "title": "Score"}}
    }},
   {"data": {"values": [{"name": "beta-sheet / Chou & Fasman"}]},
    "mark": {"type": "text", "align": "right", "baseline": "middle", "font": "DejaVu Sans Mono", "fontWeight": "bold", "fontSize": 6, "color": "#333333"},
    "encoding": {"x": {"datum": 428.1}, "y": {"datum": 1.3794}, "text": {"field": "name"}}},
   {"data": {"values": [{"name": "beta-sheet / Chou & Fasman"}]},
    "mark": {"type": "rule", "color": "#3d4fa6", "strokeWidth": 1.6},
    "encoding": {"x": {"datum": 433.1}, "x2": {"datum": 463}, "y": {"datum": 1.3794}}},
   {"data": {"values": [{"label": "C"}]},
    "mark": {"type": "point", "shape": "circle", "filled": true, "color": "#f2a51f", "size": 190, "opacity": 1},
    "encoding": {"x": {"datum": 496.7}, "y": {"datum": 0.514}}},
   {"data": {"values": [{"label": "C"}]},
    "mark": {"type": "text", "color": "white", "fontWeight": "bold", "fontSize": 10, "font": "Liberation Sans", "baseline": "middle", "align": "center"},
    "encoding": {"x": {"datum": 496.7}, "y": {"datum": 0.514}, "text": {"field": "label"}}}
  ]
 },
 {
  "width": 284, "height": 221,
  "layer": [
   {"data": {"name": "turn"},
    "mark": {"type": "line", "color": "#4254aa", "strokeWidth": 1.7},
    "encoding": {
     "x": {"field": "pos", "type": "quantitative", "scale": {"domain": [0, 480], "nice": false, "zero": false}, "axis": {"values": [50,100,150,200,250,300,350,400,450], "title": "Position"}},
     "y": {"field": "score", "type": "quantitative", "scale": {"domain": [0.6, 1.4], "nice": false, "zero": false}, "axis": {"values": [0.6,0.7,0.8,0.9,1.0,1.1,1.2,1.3,1.4], "format": ".1f", "title": "Score"}}
    }},
   {"data": {"values": [{"name": "beta-turn / Chou & Fasman"}]},
    "mark": {"type": "text", "align": "right", "baseline": "middle", "font": "DejaVu Sans Mono", "fontWeight": "bold", "fontSize": 6, "color": "#333333"},
    "encoding": {"x": {"datum": 437.7}, "y": {"datum": 1.377}, "text": {"field": "name"}}},
   {"data": {"values": [{"name": "beta-turn / Chou & Fasman"}]},
    "mark": {"type": "rule", "color": "#3d4fa6", "strokeWidth": 1.6},
    "encoding": {"x": {"datum": 442.8}, "x2": {"datum": 473.2}, "y": {"datum": 1.377}}},
   {"data": {"values": [{"label": "D"}]},
    "mark": {"type": "point", "shape": "circle", "filled": true, "color": "#f2a51f", "size": 190, "opacity": 1},
    "encoding": {"x": {"datum": 499.1}, "y": {"datum": 0.52}}},
   {"data": {"values": [{"label": "D"}]},
    "mark": {"type": "text", "color": "white", "fontWeight": "bold", "fontSize": 10, "font": "Liberation Sans", "baseline": "middle", "align": "center"},
    "encoding": {"x": {"datum": 499.1}, "y": {"datum": 0.52}, "text": {"field": "label"}}}
  ]
 }
]
}
